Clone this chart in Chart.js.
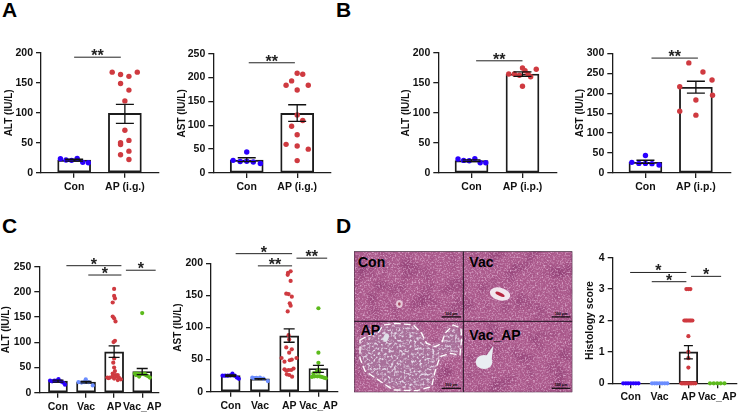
<!DOCTYPE html>
<html>
<head>
<meta charset="utf-8">
<title>Liver injury panels</title>
<script src="https://cdn.jsdelivr.net/npm/chart.js@4"></script>
<style>
  html, body { margin: 0; padding: 0; background: #fff; }
  #page { position: relative; width: 740px; height: 413px; overflow: hidden; background: #fff; filter: blur(0.3px); }
  canvas { position: absolute; }
  .letter { position: absolute; font: bold 21px/1 "Liberation Sans", Arial, sans-serif; color: #000; }
  #histo { position: absolute; left: 350px; top: 245px; }
  #histo text { font-family: "Liberation Sans", Arial, sans-serif; font-weight: bold; fill: #000; }
</style>
</head>
<body>
<div id="page">
  <div class="letter" style="left:2px;top:-1px">A</div>
  <div class="letter" style="left:336px;top:-1px">B</div>
  <div class="letter" style="left:2px;top:215px">C</div>
  <div class="letter" style="left:336px;top:215px">D</div>

  <!-- anh mo hoc: ve bang SVG, khong phai so lieu -->
  <svg id="histo" width="230" height="150" viewBox="0 0 690 450">
    <defs>
      <filter id="speck" x="0" y="0" width="100%" height="100%" color-interpolation-filters="sRGB">
        <feTurbulence type="fractalNoise" baseFrequency="0.2" numOctaves="2" seed="7"/>
        <feColorMatrix values="0 0 0 0 .86  0 0 0 0 .66  0 0 0 0 .80  2.6 0 0 0 -1.2"/>
        <feGaussianBlur stdDeviation="1.2"/>
      </filter>
      <filter id="pale" x="0" y="0" width="100%" height="100%" color-interpolation-filters="sRGB">
        <feTurbulence type="fractalNoise" baseFrequency="0.13" numOctaves="2" seed="11"/>
        <feColorMatrix values="0 0 0 0 .90  0 0 0 0 .86  0 0 0 0 .92  3.6 0 0 0 -1.7"/>
        <feGaussianBlur stdDeviation="1.2"/>
      </filter>
      <filter id="mottle" x="0" y="0" width="100%" height="100%" color-interpolation-filters="sRGB">
        <feTurbulence type="fractalNoise" baseFrequency="0.02" numOctaves="2" seed="3"/>
        <feColorMatrix values="0 0 0 0 .52  0 0 0 0 .20  0 0 0 0 .42  1.6 0 0 0 -0.75"/>
      </filter>
      <filter id="soft" x="-20%" y="-20%" width="140%" height="140%"><feGaussianBlur stdDeviation="9"/></filter>
      <clipPath id="frame"><rect x="12" y="19" width="655" height="423"/></clipPath>
      <mask id="lesion" maskUnits="userSpaceOnUse" x="12" y="229" width="328" height="213">
        <path filter="url(#soft)" fill="#fff" d="M30 285 L60 270 L85 262 L100 240 L140 235 L190 240 L215 265 L230 295 L255 305 L275 295 L285 265 L310 240 L333 250 L335 280 L330 330 L300 325 L270 335 L255 380 L245 425 L200 437 L130 435 L85 405 L45 378 L30 340 Z"/>
      </mask>
    </defs>
    <g clip-path="url(#frame)">
      <rect x="12" y="19" width="655" height="423" fill="#ab5a8c"/>
      <rect x="12" y="19" width="655" height="423" filter="url(#mottle)"/>
      <rect x="12" y="19" width="655" height="423" filter="url(#speck)"/>
      <g mask="url(#lesion)">
        <rect x="12" y="229" width="328" height="213" fill="#a8709a"/>
        <rect x="12" y="229" width="328" height="213" filter="url(#pale)"/>
      </g>
      <ellipse cx="148" cy="177" rx="10" ry="12" fill="#e6c8d8"/>
      <ellipse cx="148" cy="177" rx="4" ry="5" fill="#a34a62"/>
      <ellipse cx="450" cy="147" rx="31" ry="19" transform="rotate(15 450 147)" fill="#f1e6ee"/>
      <ellipse cx="450" cy="148" rx="15" ry="5" transform="rotate(25 450 148)" fill="#b5263f"/>
      <ellipse cx="108" cy="278" rx="8" ry="13" transform="rotate(20 108 278)" fill="#dfe0e8"/>
      <ellipse cx="402" cy="351" rx="25" ry="21" fill="#e9edf2"/>
      <path d="M408 334 L430 302 L424 352 Z" fill="#e9edf2"/>
      <path d="M30 285 L60 270 L85 262 L100 240 L140 235 L190 240 L215 265 L230 295 L255 305 L275 295 L285 265 L310 240 L333 250 L335 280 L330 330 L300 325 L270 335 L255 380 L245 425 L200 437 L130 435 L85 405 L45 378 L30 340 Z" fill="none" stroke="#fff" stroke-width="4" stroke-dasharray="17 13" stroke-linecap="round" stroke-linejoin="round"/>
      <path d="M340 19V442M12 229H667" stroke="#1c1320" stroke-width="3" fill="none"/>
      <rect x="12" y="19" width="655" height="423" fill="none" stroke="#3a2a3a" stroke-width="3"/>
      <g fill="#000" stroke="none">
        <rect x="275" y="214" width="58" height="3.5"/>
        <rect x="605" y="214" width="56" height="3.5"/>
        <rect x="275" y="428" width="58" height="3.5"/>
        <rect x="605" y="428" width="56" height="3.5"/>
      </g>
      <g font-size="11" text-anchor="middle">
        <text x="304" y="210">100 µm</text>
        <text x="633" y="210">100 µm</text>
        <text x="304" y="424">100 µm</text>
        <text x="633" y="424">100 µm</text>
      </g>
      <g font-size="42">
        <text x="24" y="66">Con</text>
        <text x="358" y="66">Vac</text>
        <text x="32" y="271">AP</text>
        <text x="358" y="285">Vac_AP</text>
      </g>
    </g>
  </svg>
</div>

<script>
// --- SO LIEU ---
const catsIg = ['Con', 'AP (i.g.)'];
const catsIp = ['Con', 'AP (i.p.)'];
const catsFour = ['Con', 'Vac', 'AP', 'Vac_AP'];

// Panel A - ALT
const aAltMean = [21, 99];
const aAltLow = [19.5, 82.5];
const aAltHigh = [22.5, 114];
const aAltConY = [23.4, 21.2, 20.6, 24, 17.3, 16.7];
const aAltConJit = [-0.27, -0.16, -0.05, 0.06, 0.17, 0.28];
const aAltApY = [168, 164, 161, 168, 149, 138, 120, 71, 54, 50, 47, 36, 30, 22];
const aAltApJit = [-0.25, -0.085, 0.08, 0.245, -0.085, 0.08, 0, 0, 0.08, -0.085, -0.085, 0.08, -0.085, 0.08];
const aAltSigFrom = [1.0], aAltSigTo = [1.92], aAltSigY = [193], aAltSigText = ['**'];

// Panel A - AST
const aAstMean = [27, 125];
const aAstLow = [24, 108];
const aAstHigh = [32, 143];
const aAstConY = [26.5, 24, 44, 24.5, 23, 20];
const aAstConJit = [-0.27, -0.13, 0, 0, 0.13, 0.27];
const aAstApY = [209, 207, 193, 184, 184, 174, 121.5, 110, 98, 80, 60, 56.5, 50, 26];
const aAstApJit = [0, 0.11, -0.11, -0.22, 0.22, 0, 0, 0.11, -0.11, 0, -0.22, 0, 0.22, 0];
const aAstSigFrom = [1.04], aAstSigTo = [1.955], aAstSigY = [231], aAstSigText = ['**'];

// Panel B - ALT
const bAltMean = [20.5, 165];
const bAltLow = [19, 161];
const bAltHigh = [22, 168.5];
const bAltConY = [23.3, 21, 20.5, 24, 17, 17];
const bAltConJit = [-0.265, -0.155, -0.045, 0.065, 0.17, 0.28];
const bAltApY = [165, 165, 163, 175, 170.5, 165, 160.5, 172.8, 144.5];
const bAltApJit = [-0.27, -0.16, -0.06, 0, 0.05, 0.11, 0.16, 0.27, 0];
const bAltSigFrom = [1.09], bAltSigTo = [2.0], bAltSigY = [187], bAltSigText = ['**'];

// Panel B - AST
const bAstMean = [27, 215];
const bAstLow = [24, 200];
const bAstHigh = [32, 230];
const bAstConY = [26.7, 24, 44, 24, 23.4, 20];
const bAstConJit = [-0.27, -0.13, 0, 0, 0.13, 0.27];
const bAstApY = [276, 253, 233, 216, 195, 183, 155, 145];
const bAstApJit = [-0.14, 0.14, 0.32, -0.32, 0.33, 0, -0.32, 0];
const bAstSigFrom = [1.12], bAstSigTo = [2.04], bAstSigY = [288], bAstSigText = ['**'];

// Panel C - ALT
const cAltMean = [23, 21, 81, 42];
const cAltLow = [21, 19.5, 70, 36];
const cAltHigh = [25, 22.5, 93, 48];
const cAltConY = [24, 22.5, 24, 24, 27, 22.5, 20, 16];
const cAltConJit = [-0.28, -0.21, -0.13, -0.05, 0.02, 0.1, 0.18, 0.25];
const cAltVacY = [21, 20, 21, 26.5, 21, 14.5];
const cAltVacJit = [-0.27, -0.16, -0.07, -0.01, 0.09, 0.24];
const cAltApY = [206, 192, 187, 179, 151, 147.5, 141.5, 103, 100.5, 68, 59.5, 50, 43, 38, 35, 35, 30, 30, 31.7, 32, 30, 26.5, 28, 25, 29];
const cAltApJit = [0, 0, 0.03, -0.05, -0.05, 0, 0.05, 0.03, -0.02, 0, -0.03, 0, 0.03, -0.05, 0.13, 0.05, -0.24, -0.15, -0.06, 0.08, 0.17, 0.24, 0, 0.13, -0.2];
const cAltVacApY = [158, 38, 38, 32, 37, 37, 35, 33, 30, 35, 37, 38];
const cAltVacApJit = [0, -0.26, -0.18, -0.11, -0.03, 0.05, 0.13, 0.2, 0.27, -0.22, -0.09, 0.09];
const cAltSigFrom = [1.3, 2.08, 3.42], cAltSigTo = [3.26, 3.26, 4.48], cAltSigY = [252, 233.5, 243], cAltSigText = ['*', '*', '*'];

// Panel C - AST
const cAstMean = [25, 20, 87, 36];
const cAstLow = [24, 19.5, 77, 30];
const cAstHigh = [26, 20.5, 98, 41];
const cAstConY = [25, 25, 25, 25.5, 28, 25, 22, 20];
const cAstConJit = [-0.28, -0.19, -0.1, -0.01, 0.06, 0.14, 0.21, 0.28];
const cAstVacY = [22, 21.5, 22, 20.5, 16.6, 21];
const cAstVacJit = [-0.26, -0.12, 0, 0.12, 0.27, -0.19];
const cAstApY = [187.5, 185, 182, 172.5, 152.7, 152, 148, 137.7, 134, 125, 88, 81.5, 69, 66, 60.8, 52.5, 52.5, 46.8, 49, 50, 36, 33.8, 33.8, 34.8, 27, 26, 23.4, 32.7];
const cAstApJit = [0.05, -0.04, -0.05, 0.05, -0.1, -0.02, 0.09, 0.02, 0.05, -0.05, -0.02, 0, -0.1, 0.09, 0, -0.26, 0.25, -0.16, 0.02, 0.09, 0.15, 0.07, -0.02, -0.16, -0.08, 0, 0.1, -0.1];
const cAstVacApY = [130, 60.8, 45, 31, 31, 23, 24, 24, 24, 23, 22, 21, 28.5, 34];
const cAstVacApJit = [0, 0, 0, -0.06, 0.03, -0.22, -0.13, -0.04, 0.04, 0.11, 0.18, 0.25, -0.17, 0];
const cAstSigFrom = [1.17, 1.93, 3.25], cAstSigTo = [3.1, 3.1, 4.3], cAstSigY = [215, 196, 208], cAstSigText = ['*', '**', '**'];

// Panel D - Histology score
const dMean = [0, 0, 1, 0];
const dLow = [0, 0, 0.78, 0];
const dHigh = [0, 0, 1.2, 0];
const dConY = [0, 0, 0, 0, 0, 0, 0];
const dConJit = [-0.26, -0.17, -0.09, 0, 0.09, 0.18, 0.27];
const dVacY = [0, 0, 0, 0, 0, 0, 0];
const dVacJit = [-0.26, -0.17, -0.09, 0, 0.09, 0.18, 0.27];
const dApY = [0, 0, 0, 0, 0, 0, 0, 0, 0, 0, 0.5, 0.8, 1, 1.5, 2, 2, 2, 2, 2, 2, 2, 3, 3, 3];
const dApJit = [-0.24, -0.19, -0.14, -0.09, -0.04, 0.01, 0.06, 0.11, 0.17, 0.24, 0, 0, 0, 0, -0.14, -0.09, -0.05, 0, 0.05, 0.09, 0.14, -0.07, 0, 0.07];
const dVacApY = [0, 0, 0, 0, 0];
const dVacApJit = [-0.25, -0.12, 0, 0.12, 0.25];
const dSigFrom = [0.98, 1.73, 3.09], dSigTo = [2.93, 2.93, 4.136], dSigY = [3.53, 3.236, 3.406], dSigText = ['*', '*', '*'];

// --- MAU & NET ---
const COLOR_CON = '#2a00ff', COLOR_VAC = '#6b8dff', COLOR_AP = '#cf3a40', COLOR_VACAP = '#5cba1c';
const INK = '#1c1c1c';
const FONT_FAMILY = '"Liberation Sans", Arial, sans-serif';
const TICK_FONT = { family: FONT_FAMILY, size: 10.5, weight: 'bold' };

// Plugin ve error bar va duong so sanh (di qua scale cua chart)
function marksPlugin(low, high, capHalf, sig) {
    return {
        id: 'marks',
        afterDatasetsDraw(chart) {
            const { ctx, scales: { x, y } } = chart;
            ctx.save();
            ctx.strokeStyle = '#111';
            ctx.lineWidth = 1.3;
            low.forEach((v, i) => {
                if (high[i] === v) return;
                const px = x.getPixelForValue(i + 1);
                const top = y.getPixelForValue(high[i]);
                const bot = y.getPixelForValue(v);
                ctx.beginPath();
                ctx.moveTo(px, top); ctx.lineTo(px, bot);
                ctx.moveTo(px - capHalf, top); ctx.lineTo(px + capHalf, top);
                ctx.moveTo(px - capHalf, bot); ctx.lineTo(px + capHalf, bot);
                ctx.stroke();
            });
            ctx.lineWidth = 1;
            ctx.strokeStyle = '#222';
            ctx.fillStyle = '#222';
            ctx.textAlign = 'center';
            ctx.textBaseline = 'alphabetic';
            ctx.font = 'bold 16px ' + FONT_FAMILY;
            sig.from.forEach((from, i) => {
                const x1 = x.getPixelForValue(from);
                const x2 = x.getPixelForValue(sig.to[i]);
                const py = y.getPixelForValue(sig.y[i]);
                ctx.beginPath();
                ctx.moveTo(x1, py); ctx.lineTo(x2, py);
                ctx.stroke();
                ctx.fillText(sig.text[i], (x1 + x2) / 2, py + 4);
            });
            ctx.restore();
        }
    };
}

function addPanel(cfg) {
    const PAD_TOP = 26, AXIS_H = 24;
    const boxLeft = Math.floor(cfg.left - cfg.titleGap - 6);
    const boxTop = Math.floor(cfg.top - PAD_TOP);
    const boxRight = Math.min(741, Math.ceil(cfg.right) + 2);
    const boxBottom = Math.ceil(cfg.bottom + AXIS_H);

    const canvas = document.createElement('canvas');
    canvas.id = cfg.id;
    canvas.width = boxRight - boxLeft;
    canvas.height = boxBottom - boxTop;
    canvas.style.left = boxLeft + 'px';
    canvas.style.top = boxTop + 'px';
    document.getElementById('page').appendChild(canvas);

    const xMin = 1 - (cfg.firstTick - cfg.left) / cfg.step;
    const xMax = 1 + (cfg.right - cfg.firstTick) / cfg.step;

    const datasets = [{
        type: 'bar',
        data: cfg.mean.map((m, i) => ({ x: i + 1, y: m })),
        backgroundColor: 'transparent',
        borderColor: INK,
        borderWidth: 1.2,
        borderSkipped: false,
        barThickness: cfg.barW,
        order: 2
    }];
    cfg.groups.forEach((g, i) => {
        datasets.push({
            type: 'scatter',
            data: g.y.map((v, k) => ({ x: i + 1 + g.jit[k], y: v })),
            backgroundColor: g.color,
            borderWidth: 0,
            pointRadius: cfg.radius,
            clip: false,
            order: 1
        });
    });

    new Chart(canvas, {
        data: { datasets },
        options: {
            responsive: false,
            animation: false,
            layout: {
                padding: {
                    left: 0,
                    top: cfg.top - boxTop,
                    right: boxRight - cfg.right,
                    bottom: boxBottom - cfg.bottom - AXIS_H
                }
            },
            plugins: { legend: { display: false }, tooltip: { enabled: false } },
            scales: {
                x: {
                    type: 'linear',
                    min: xMin,
                    max: xMax,
                    offset: false,
                    afterBuildTicks: axis => { axis.ticks = cfg.cats.map((c, i) => ({ value: i + 1 })); },
                    afterFit: axis => { axis.height = AXIS_H; },
                    grid: { offset: false, drawOnChartArea: false, color: INK, lineWidth: 1.3, tickLength: 5 },
                    border: { color: INK, width: 1.3 },
                    ticks: {
                        autoSkip: false,
                        maxRotation: 0,
                        minRotation: 0,
                        padding: 3,
                        color: '#111',
                        font: TICK_FONT,
                        callback: value => cfg.cats[value - 1]
                    }
                },
                y: {
                    min: 0,
                    max: cfg.yMax,
                    afterFit: axis => { axis.width = cfg.left - boxLeft; },
                    grid: { drawOnChartArea: false, color: INK, lineWidth: 1.3, tickLength: 5 },
                    border: { color: INK, width: 1.3 },
                    ticks: { stepSize: cfg.yStep, padding: 3, color: '#111', font: TICK_FONT },
                    title: {
                        display: true,
                        text: cfg.yTitle,
                        color: '#111',
                        font: { family: FONT_FAMILY, size: cfg.titleSize || 10, weight: 'bold' },
                        padding: 0
                    }
                }
            }
        },
        plugins: [marksPlugin(cfg.low, cfg.high, cfg.capHalf, cfg.sig)]
    });
}

document.addEventListener('DOMContentLoaded', () => {
    addPanel({ id: 'a-alt', left: 41, right: 161, top: 53, bottom: 172.7, firstTick: 74.7, step: 51.6, titleGap: 31.7,
        barW: 33, capHalf: 9, radius: 2.7, yMax: 200, yStep: 50, yTitle: 'ALT (IU/L)', cats: catsIg,
        mean: aAltMean, low: aAltLow, high: aAltHigh,
        groups: [{ y: aAltConY, jit: aAltConJit, color: COLOR_CON }, { y: aAltApY, jit: aAltApJit, color: COLOR_AP }],
        sig: { from: aAltSigFrom, to: aAltSigTo, y: aAltSigY, text: aAltSigText } });

    addPanel({ id: 'a-ast', left: 213.3, right: 333, top: 53.7, bottom: 173, firstTick: 247.3, step: 51.3, titleGap: 31.3,
        barW: 33, capHalf: 9, radius: 2.7, yMax: 250, yStep: 50, yTitle: 'AST (IU/L)', cats: catsIg,
        mean: aAstMean, low: aAstLow, high: aAstHigh,
        groups: [{ y: aAstConY, jit: aAstConJit, color: COLOR_CON }, { y: aAstApY, jit: aAstApJit, color: COLOR_AP }],
        sig: { from: aAstSigFrom, to: aAstSigTo, y: aAstSigY, text: aAstSigText } });

    addPanel({ id: 'b-alt', left: 438.3, right: 558.7, top: 53, bottom: 173, firstTick: 472, step: 51.7, titleGap: 32,
        barW: 33, capHalf: 9, radius: 2.7, yMax: 200, yStep: 50, yTitle: 'ALT (IU/L)', cats: catsIp,
        mean: bAltMean, low: bAltLow, high: bAltHigh,
        groups: [{ y: bAltConY, jit: bAltConJit, color: COLOR_CON }, { y: bAltApY, jit: bAltApJit, color: COLOR_AP }],
        sig: { from: bAltSigFrom, to: bAltSigTo, y: bAltSigY, text: bAltSigText } });

    addPanel({ id: 'b-ast', left: 612.3, right: 733, top: 53.3, bottom: 173, firstTick: 646, step: 51.3, titleGap: 32,
        barW: 33, capHalf: 9, radius: 2.7, yMax: 300, yStep: 50, yTitle: 'AST (IU/L)', cats: catsIp,
        mean: bAstMean, low: bAstLow, high: bAstHigh,
        groups: [{ y: bAstConY, jit: bAstConJit, color: COLOR_CON }, { y: bAstApY, jit: bAstApJit, color: COLOR_AP }],
        sig: { from: bAstSigFrom, to: bAstSigTo, y: bAstSigY, text: bAstSigText } });

    addPanel({ id: 'c-alt', left: 39.3, right: 163, top: 266.7, bottom: 392.7, firstTick: 58.7, step: 29.2, titleGap: 33,
        barW: 19, capHalf: 5.5, radius: 2.1, yMax: 250, yStep: 50, yTitle: 'ALT (IU/L)', cats: catsFour,
        mean: cAltMean, low: cAltLow, high: cAltHigh,
        groups: [{ y: cAltConY, jit: cAltConJit, color: COLOR_CON }, { y: cAltVacY, jit: cAltVacJit, color: COLOR_VAC },
                 { y: cAltApY, jit: cAltApJit, color: COLOR_AP }, { y: cAltVacApY, jit: cAltVacApJit, color: COLOR_VACAP }],
        sig: { from: cAltSigFrom, to: cAltSigTo, y: cAltSigY, text: cAltSigText } });

    addPanel({ id: 'c-ast', left: 211, right: 340, top: 263.3, bottom: 391.7, firstTick: 231, step: 29.7, titleGap: 33,
        barW: 19, capHalf: 5.5, radius: 2.1, yMax: 200, yStep: 50, yTitle: 'AST (IU/L)', cats: catsFour,
        mean: cAstMean, low: cAstLow, high: cAstHigh,
        groups: [{ y: cAstConY, jit: cAstConJit, color: COLOR_CON }, { y: cAstVacY, jit: cAstVacJit, color: COLOR_VAC },
                 { y: cAstApY, jit: cAstApJit, color: COLOR_AP }, { y: cAstVacApY, jit: cAstVacApJit, color: COLOR_VACAP }],
        sig: { from: cAstSigFrom, to: cAstSigTo, y: cAstSigY, text: cAstSigText } });

    addPanel({ id: 'd-score', left: 612.7, right: 739, top: 257.7, bottom: 383.3, firstTick: 631, step: 29.3, titleGap: 22.7,
        barW: 18.7, capHalf: 4.5, radius: 2.1, yMax: 4, yStep: 1, yTitle: 'Histology score', titleSize: 10.5, cats: catsFour,
        mean: dMean, low: dLow, high: dHigh,
        groups: [{ y: dConY, jit: dConJit, color: COLOR_CON }, { y: dVacY, jit: dVacJit, color: COLOR_VAC },
                 { y: dApY, jit: dApJit, color: COLOR_AP }, { y: dVacApY, jit: dVacApJit, color: COLOR_VACAP }],
        sig: { from: dSigFrom, to: dSigTo, y: dSigY, text: dSigText } });
});
</script>
</body>
</html>
